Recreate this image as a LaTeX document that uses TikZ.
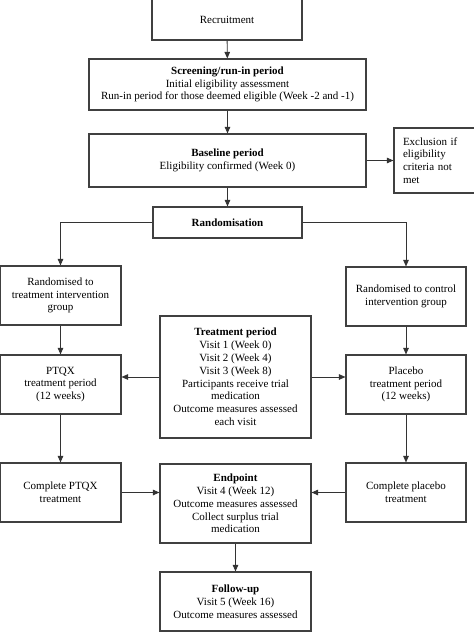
\documentclass[tikz,border=0pt]{standalone}
\usepackage{fontspec}
\setmainfont{Liberation Serif}
\usetikzlibrary{positioning,arrows.meta}

\begin{document}
\begin{tikzpicture}[x=1pt,y=-1pt,
    box/.style={draw=black!75,line width=1.1pt,align=center,inner sep=2pt,
        font=\fontsize{11}{12.8}\selectfont},
    arr/.style={-{Triangle[length=6.5pt,width=5.5pt]},line width=0.9pt,draw=black!80}]
    \useasboundingbox (0,0) rectangle (474,632);
    \clip (0,0) rectangle (474,632);

    \node[box,minimum width=150pt,minimum height=46pt,text height=15pt,text depth=2pt] (rec) at (227,17) {Recruitment};
    \node[box,minimum width=277pt,minimum height=51pt] (scr) at (227.5,84.5)
        {\textbf{Screening/run-in period}\\Initial eligibility assessment\\Run-in period for those deemed eligible (Week -2 and -1)};
    \node[box,minimum width=277pt,minimum height=53pt] (base) at (227.5,160.5)
        {\textbf{Baseline period}\\Eligibility confirmed (Week 0)};
    \node[box,align=left,text width=82pt,inner sep=9pt,minimum height=65pt] (excl) at (444,160.5)
        {Exclusion if\\eligibility\\criteria not\\met};
    \node[box,minimum width=149pt,minimum height=31pt] (rand) at (227.5,222.5) {\textbf{Randomisation}};

    \node[box,minimum width=121pt,minimum height=59pt] (tgrp) at (60.5,295.5)
        {Randomised to\\treatment intervention\\group};
    \node[box,minimum width=120pt,minimum height=59pt] (cgrp) at (406,296.5)
        {Randomised to control\\intervention group};
    \node[box,minimum width=151pt,minimum height=122pt] (tper) at (235.5,377)
        {\textbf{Treatment period}\\Visit 1 (Week 0)\\Visit 2 (Week 4)\\Visit 3 (Week 8)\\Participants receive trial\\medication\\Outcome measures assessed\\each visit};
    \node[box,minimum width=121pt,minimum height=59pt] (ptqx) at (60.5,384.5)
        {PTQX\\treatment period\\(12 weeks)};
    \node[box,minimum width=120pt,minimum height=59pt] (plac) at (406,384.5)
        {Placebo\\treatment period\\(12 weeks)};

    \node[box,minimum width=121pt,minimum height=59pt] (cptqx) at (60.5,492.5)
        {Complete PTQX\\treatment};
    \node[box,minimum width=120pt,minimum height=59pt] (cplac) at (406,492.5)
        {Complete placebo\\treatment};
    \node[box,minimum width=151pt,minimum height=79pt] (endp) at (235.5,503.5)
        {\textbf{Endpoint}\\Visit 4 (Week 12)\\Outcome measures assessed\\Collect surplus trial\\medication};
    \node[box,minimum width=151pt,minimum height=59pt] (fup) at (235.5,601.5)
        {\textbf{Follow-up}\\Visit 5 (Week 16)\\Outcome measures assessed};

    \draw[arr] (rec) -- (scr);
    \draw[arr] (scr) -- (base);
    \draw[arr] (base) -- (excl);
    \draw[arr] (base) -- (rand);
    \draw[arr] (rand.west) -| (tgrp.north);
    \draw[arr] (rand.east) -| (cgrp.north);
    \draw[arr] (tgrp) -- (ptqx);
    \draw[arr] (cgrp) -- (plac);
    \draw[arr] (tper.west) -- (tper.west -| ptqx.east);
    \draw[arr] (tper.east) -- (tper.east -| plac.west);
    \draw[arr] (ptqx) -- (cptqx);
    \draw[arr] (plac) -- (cplac);
    \draw[arr] (cptqx.east) -- (cptqx.east -| endp.west);
    \draw[arr] (cplac.west) -- (cplac.west -| endp.east);
    \draw[arr] (endp) -- (fup);
\end{tikzpicture}
\end{document}
